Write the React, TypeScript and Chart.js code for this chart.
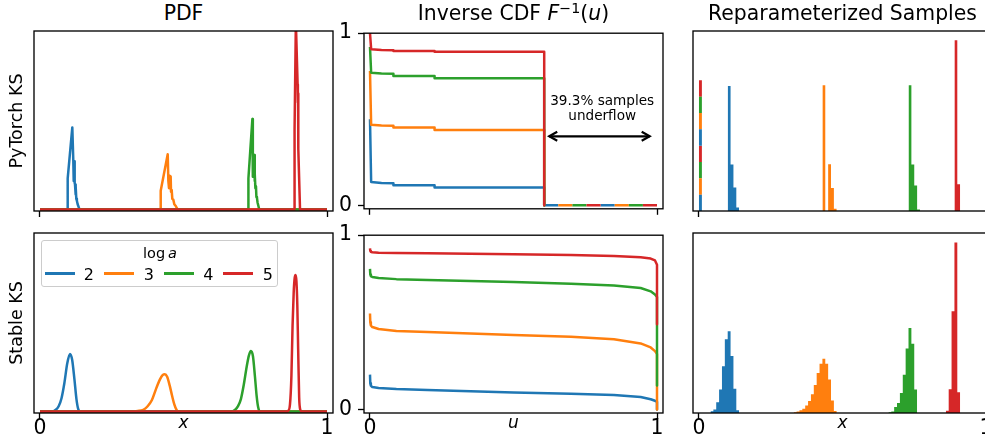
import React, { useEffect, useRef } from 'react';
import { Chart, registerables } from 'chart.js';

Chart.register(...registerables);

const FONT = "'DejaVu Sans', sans-serif";

// ---------------- data ----------------
const SERIES_LABELS = ['2', '3', '4', '5'];
const SERIES_COLORS = ['#1f77b4', '#ff7f0e', '#2ca02c', '#d62728'];
const LEGEND_TITLE = 'log';
const LEGEND_TITLE_ITALIC = 'a';
const ROW_TITLES = ['PyTorch KS', 'Stable KS'];
const X_AXIS_TITLES = ['x', 'u', 'x'];
const X_TICKS = [0, 1];
const Y_TICKS = [0, 1];

// PDF, PyTorch KS (jagged)
const pdfTorchX = [
  [0, 0.0964, 0.0965, 0.1126, 0.1161, 0.1175, 0.119, 0.1208, 0.122, 0.1235, 0.125, 0.1265, 0.1285, 0.1312, 0.138, 1],
  [0, 0.4205, 0.4206, 0.445, 0.4472, 0.4495, 0.4515, 0.4553, 0.4565, 0.4588, 0.461, 0.4646, 0.468, 0.473, 0.4797, 1],
  [0, 0.726, 0.7262, 0.74, 0.7416, 0.746, 0.7475, 0.749, 0.7505, 0.7525, 0.754, 0.756, 0.758, 0.764, 1],
  [0, 0.8855, 0.887, 0.8915, 0.8976, 0.8985, 0.8992, 0.9, 0.906, 1],
];
const pdfTorchY = [
  [0, 0, 0.175, 0.46, 0.27, 0.16, 0.27, 0.15, 0.14, 0.085, 0.13, 0.06, 0.05, 0.03, 0, 0],
  [0, 0, 0.106, 0.31, 0.16, 0.12, 0.19, 0.185, 0.1, 0.11, 0.06, 0.055, 0.03, 0.02, 0, 0],
  [0, 0, 0.175, 0.507, 0.184, 0.306, 0.16, 0.2, 0.12, 0.13, 0.07, 0.066, 0.04, 0, 0],
  [0, 0, 0.45, 1.05, 0.7, 0.6, 0.65, 0.34, 0, 0],
];

// PDF, Stable KS (smooth)
const pdfStableX = [
  [0, 0.04, 0.055, 0.065, 0.075, 0.085, 0.095, 0.1045, 0.112, 0.12, 0.127, 0.133, 0.14, 1],
  [0, 0.32, 0.34, 0.36, 0.375, 0.39, 0.405, 0.418, 0.428, 0.435, 0.443, 0.452, 0.46, 0.468, 0.475, 0.482, 1],
  [0, 0.665, 0.68, 0.69, 0.7, 0.71, 0.72, 0.728, 0.735, 0.742, 0.749, 0.755, 0.76, 0.766, 1],
  [0, 0.855, 0.865, 0.871, 0.876, 0.88, 0.884, 0.8875, 0.8905, 0.8935, 0.8965, 0.8995, 0.903, 0.907, 0.912, 1],
];
const pdfStableY = [
  [0, 0, 0.01, 0.03, 0.075, 0.16, 0.27, 0.3225, 0.29, 0.18, 0.07, 0.015, 0, 0],
  [0, 0, 0.003, 0.01, 0.03, 0.065, 0.13, 0.18, 0.205, 0.209, 0.195, 0.145, 0.09, 0.04, 0.012, 0, 0],
  [0, 0, 0.01, 0.03, 0.07, 0.15, 0.25, 0.315, 0.339, 0.31, 0.195, 0.085, 0.025, 0, 0],
  [0, 0, 0.005, 0.04, 0.2, 0.48, 0.67, 0.75, 0.765, 0.73, 0.6, 0.35, 0.08, 0.01, 0, 0],
];

// Inverse CDF, PyTorch KS
const icdfTorchU = [0, 0.004, 0.04, 0.0816, 0.0816, 0.225, 0.225, 0.607, 0.607, 1];
const icdfTorchV = [
  [0.5, 0.136, 0.13, 0.128, 0.117, 0.117, 0.104, 0.104, 0, 0],
  [0.78, 0.468, 0.464, 0.462, 0.452, 0.452, 0.4375, 0.4375, 0, 0],
  [0.92, 0.77, 0.766, 0.764, 0.752, 0.752, 0.739, 0.739, 0, 0],
  [1.0, 0.907, 0.903, 0.901, 0.897, 0.897, 0.892, 0.892, 0, 0],
];
const UNDERFLOW_U = 0.607;
const underflowLabel = ['39.3% samples', 'underflow'];
const underflowLabelU = 0.809;
const underflowLabelV = [0.585, 0.495];
const underflowArrowU = [0.621, 0.978];
const underflowArrowV = 0.401;

// Inverse CDF, Stable KS
const icdfStableU = [0, 0.001, 0.003, 0.008, 0.03, 0.092, 0.2, 0.35, 0.5, 0.7, 0.85, 0.943, 0.978, 0.993, 1, 1];
const icdfStableV = [
  [0.2, 0.15, 0.136, 0.129, 0.124, 0.118, 0.112, 0.105, 0.098, 0.091, 0.083, 0.072, 0.059, 0.05, 0.044, 0],
  [0.551, 0.5, 0.482, 0.473, 0.462, 0.451, 0.444, 0.436, 0.428, 0.417, 0.403, 0.379, 0.356, 0.335, 0.318, 0],
  [0.807, 0.775, 0.765, 0.76, 0.754, 0.748, 0.743, 0.737, 0.731, 0.722, 0.712, 0.697, 0.678, 0.66, 0.645, 0.138],
  [0.925, 0.91, 0.905, 0.902, 0.9, 0.898, 0.896, 0.893, 0.89, 0.886, 0.881, 0.873, 0.866, 0.855, 0.83, 0.489],
];

// Histograms (bin width 0.01)
const HIST_BIN = 0.01;
const torchZeroBin = [0.726, 0.726, 0.726, 0.726];
const torchHistStart = [0.1, 0.43, 0.73, 0.89];
const torchHistCounts = [
  [0.695, 0.258, 0.13, 0.019],
  [0.698, 0, 0.26, 0.128, 0.013],
  [0.698, 0.258, 0.141, 0.008],
  [0.948, 0.148],
];
const stableHistStart = [0.04, 0.33, 0.66, 0.86];
const stableHistCounts = [
  [0.01, 0.02, 0.06, 0.13, 0.26, 0.41, 0.454, 0.317, 0.135, 0.015],
  [0.004, 0.009, 0.015, 0.024, 0.041, 0.067, 0.104, 0.156, 0.222, 0.274, 0.302, 0.274, 0.186, 0.07, 0.011],
  [0.004, 0.008, 0.033, 0.056, 0.111, 0.213, 0.358, 0.472, 0.385, 0.13],
  [0.013, 0.132, 0.565, 0.947, 0.115],
];

// axis ranges
const X_RANGE = [-0.0209, 1.0209];
const PDF_Y_RANGE = [-0.008, 1.0];
const ICDF_Y_RANGE = [-0.02, 1.0];
const HIST_Y_RANGE = [0, 1.0];

// ---------------- helpers ----------------
const DASH_PHASE = [0, 3, 2, 1];

function lineSets(xs: number[][], ys: number[][], extra: any = {}) {
  return xs.map((xArr, i) => ({
    label: SERIES_LABELS[i],
    data: xArr.map((x, j) => ({ x, y: ys[i][j] })),
    borderColor: SERIES_COLORS[i],
    backgroundColor: SERIES_COLORS[i],
    borderWidth: 2.5,
    borderJoinStyle: 'round',
    borderCapStyle: 'butt',
    pointRadius: 0,
    pointHoverRadius: 0,
    fill: false,
    order: SERIES_LABELS.length - i,
    ...extra,
  }));
}

function isUnderflowTail(c: any) {
  return c.p0.parsed.x >= UNDERFLOW_U && c.p0.parsed.y === 0 && c.p1.parsed.y === 0;
}

function icdfTorchSets() {
  return lineSets(icdfTorchV.map(() => icdfTorchU), icdfTorchV).map((ds: any, i: number) => ({
    ...ds,
    segment: {
      borderDash: (c: any) => {
        if (!isUnderflowTail(c)) return undefined;
        const d = (c.p1.x - c.p0.x) / 8;
        return [d, 3 * d];
      },
      borderDashOffset: (c: any) => {
        if (!isUnderflowTail(c)) return undefined;
        const d = (c.p1.x - c.p0.x) / 8;
        return DASH_PHASE[i] * d;
      },
    },
  }));
}

// histogram outline as one closed polygon (bin corners), filled to the axis
function histSets(starts: number[], counts: number[][]) {
  return starts.map((s, i) => {
    const pts: any[] = [{ x: s, y: 0 }];
    counts[i].forEach((c, j) => {
      pts.push({ x: s + j * HIST_BIN, y: c });
      pts.push({ x: s + (j + 1) * HIST_BIN, y: c });
    });
    pts.push({ x: s + counts[i].length * HIST_BIN, y: 0 });
    return {
      label: SERIES_LABELS[i],
      data: pts,
      fill: 'origin',
      tension: 0,
      backgroundColor: SERIES_COLORS[i],
      borderColor: SERIES_COLORS[i],
      borderWidth: 0,
      pointRadius: 0,
      pointHoverRadius: 0,
      order: SERIES_LABELS.length - i,
    };
  });
}

function zeroBinSets(heights: number[]) {
  return heights.map((h, i) => ({
    label: SERIES_LABELS[i] + ' underflow',
    data: [
      { x: HIST_BIN / 2, y: 0 },
      { x: HIST_BIN / 2, y: h },
    ],
    borderColor: SERIES_COLORS[i],
    borderWidth: 2.9,
    borderCapStyle: 'butt',
    pointRadius: 0,
    pointHoverRadius: 0,
    fill: false,
    segment: {
      borderDash: (c: any) => {
        const d = Math.abs(c.p0.y - c.p1.y) / 8;
        return [d, 3 * d];
      },
      borderDashOffset: (c: any) => {
        const d = Math.abs(c.p0.y - c.p1.y) / 8;
        return DASH_PHASE[i] * d;
      },
    },
  }));
}

const framePlugin = {
  id: 'frame',
  afterDatasetsDraw(chart: any) {
    const { ctx, chartArea: a } = chart;
    ctx.save();
    ctx.strokeStyle = '#000';
    ctx.lineWidth = 1.33;
    ctx.strokeRect(a.left, a.top, a.right - a.left, a.bottom - a.top);
    ctx.restore();
  },
};

const underflowPlugin = {
  id: 'underflow',
  afterDatasetsDraw(chart: any) {
    const { ctx } = chart;
    const xs = chart.scales.x;
    const ys = chart.scales.y;
    ctx.save();
    ctx.fillStyle = '#000';
    ctx.font = `13.6px ${FONT}`;
    ctx.textAlign = 'center';
    ctx.textBaseline = 'alphabetic';
    underflowLabel.forEach((t, i) => {
      ctx.fillText(t, xs.getPixelForValue(underflowLabelU), ys.getPixelForValue(underflowLabelV[i]));
    });
    const x0 = xs.getPixelForValue(underflowArrowU[0]);
    const x1 = xs.getPixelForValue(underflowArrowU[1]);
    const y = ys.getPixelForValue(underflowArrowV);
    ctx.strokeStyle = '#000';
    ctx.lineWidth = 2.2;
    ctx.lineJoin = 'miter';
    ctx.beginPath();
    ctx.moveTo(x0 + 1, y);
    ctx.lineTo(x1 - 1, y);
    ctx.stroke();
    const hl = 9;
    const hw = 4.5;
    ctx.beginPath();
    ctx.moveTo(x0 + hl, y - hw);
    ctx.lineTo(x0 + 1, y);
    ctx.lineTo(x0 + hl, y + hw);
    ctx.stroke();
    ctx.beginPath();
    ctx.moveTo(x1 - hl, y - hw);
    ctx.lineTo(x1 - 1, y);
    ctx.lineTo(x1 - hl, y + hw);
    ctx.stroke();
    ctx.restore();
  },
};

type Box = { l: number; t: number; r: number; b: number };
type Spec = {
  box: Box;
  yW: number;
  xH: number;
  padT: number;
  padR: number;
  yMode: 'title' | 'ticks' | 'none';
  rowTitle?: string;
  xLabels: boolean;
  xTitle?: string;
  yRange: number[];
  datasets: any[];
  plugins?: any[];
};

function geom(s: Spec) {
  return {
    left: s.box.l - s.yW,
    top: s.box.t - s.padT,
    width: s.yW + (s.box.r - s.box.l) + s.padR,
    height: s.padT + (s.box.b - s.box.t) + s.xH,
  };
}

function buildConfig(s: Spec): any {
  const tickFont = { family: FONT, size: 20.4, lineHeight: 1 };
  const tickGrid = {
    display: true,
    drawOnChartArea: false,
    drawTicks: true,
    tickLength: 6,
    tickWidth: 1.33,
    tickColor: '#000',
  };
  const x: any = {
    type: 'linear',
    position: 'bottom',
    min: X_RANGE[0],
    max: X_RANGE[1],
    afterBuildTicks: (sc: any) => {
      sc.ticks = X_TICKS.map((v) => ({ value: v }));
    },
    afterFit: (sc: any) => {
      sc.height = s.xH;
    },
    grid: tickGrid,
    border: { display: false },
    ticks: {
      display: s.xLabels,
      autoSkip: false,
      maxRotation: 0,
      minRotation: 0,
      padding: 0,
      color: '#000',
      font: tickFont,
      callback: (v: any) => String(v),
    },
    title: s.xTitle
      ? {
          display: true,
          text: s.xTitle,
          color: '#000',
          font: { family: FONT, size: 17, style: 'italic' },
          padding: { top: 0, bottom: 8.5 },
        }
      : { display: false },
  };
  let y: any;
  if (s.yMode === 'ticks') {
    y = {
      type: 'linear',
      position: 'left',
      min: s.yRange[0],
      max: s.yRange[1],
      afterBuildTicks: (sc: any) => {
        sc.ticks = Y_TICKS.map((v) => ({ value: v }));
      },
      afterFit: (sc: any) => {
        sc.width = s.yW;
      },
      grid: tickGrid,
      border: { display: false },
      ticks: { display: true, padding: 6, color: '#000', font: tickFont, callback: (v: any) => String(v) },
    };
  } else if (s.yMode === 'title') {
    y = {
      type: 'linear',
      position: 'left',
      min: s.yRange[0],
      max: s.yRange[1],
      afterFit: (sc: any) => {
        sc.width = s.yW;
      },
      grid: { display: false },
      border: { display: false },
      ticks: { display: false },
      title: {
        display: true,
        text: s.rowTitle,
        color: '#000',
        font: { family: FONT, size: 17.5 },
        padding: { top: 7, bottom: 0 },
      },
    };
  } else {
    y = { type: 'linear', display: false, min: s.yRange[0], max: s.yRange[1] };
  }
  return {
    type: 'line',
    data: { datasets: s.datasets },
    options: {
      animation: false,
      responsive: false,
      maintainAspectRatio: false,
      devicePixelRatio: 1,
      events: [],
      layout: { padding: { top: s.padT, right: s.padR, bottom: 0, left: s.yMode === 'none' ? s.yW : 0 } },
      plugins: { legend: { display: false }, tooltip: { enabled: false }, title: { display: false } },
      scales: { x, y },
    },
    plugins: [framePlugin, ...(s.plugins || [])],
  };
}

function Panel({ spec }: { spec: Spec }) {
  const ref = useRef<HTMLCanvasElement>(null);
  useEffect(() => {
    const chart = new Chart(ref.current as HTMLCanvasElement, buildConfig(spec));
    return () => chart.destroy();
  }, []);
  const g = geom(spec);
  return (
    <canvas
      ref={ref}
      width={g.width}
      height={g.height}
      style={{ position: 'absolute', left: g.left, top: g.top, width: g.width, height: g.height }}
    />
  );
}

const BOX_A = { l: 34, t: 31, r: 333, b: 211 };
const BOX_B = { l: 34, t: 233, r: 333, b: 413 };
const BOX_C = { l: 364, t: 31, r: 663, b: 211 };
const BOX_D = { l: 364, t: 233, r: 663, b: 413 };
const BOX_E = { l: 693, t: 31, r: 992, b: 211 };
const BOX_F = { l: 693, t: 233, r: 992, b: 413 };

const SPECS: Spec[] = [
  {
    box: BOX_A, yW: 34, xH: 14, padT: 4, padR: 8, yMode: 'title', rowTitle: ROW_TITLES[0],
    xLabels: false, yRange: PDF_Y_RANGE, datasets: lineSets(pdfTorchX, pdfTorchY),
  },
  {
    box: BOX_B, yW: 34, xH: 29, padT: 4, padR: 8, yMode: 'title', rowTitle: ROW_TITLES[1],
    xLabels: true, xTitle: X_AXIS_TITLES[0], yRange: PDF_Y_RANGE,
    datasets: lineSets(pdfStableX, pdfStableY, { cubicInterpolationMode: 'monotone' }),
  },
  {
    box: BOX_C, yW: 30, xH: 14, padT: 14, padR: 8, yMode: 'ticks',
    xLabels: false, yRange: ICDF_Y_RANGE, datasets: icdfTorchSets(), plugins: [underflowPlugin],
  },
  {
    box: BOX_D, yW: 30, xH: 29, padT: 14, padR: 8, yMode: 'ticks',
    xLabels: true, xTitle: X_AXIS_TITLES[1], yRange: ICDF_Y_RANGE,
    datasets: lineSets(icdfStableV.map(() => icdfStableU), icdfStableV),
  },
  {
    box: BOX_E, yW: 8, xH: 14, padT: 4, padR: 8, yMode: 'none',
    xLabels: false, yRange: HIST_Y_RANGE,
    datasets: [...histSets(torchHistStart, torchHistCounts), ...zeroBinSets(torchZeroBin)],
  },
  {
    box: BOX_F, yW: 8, xH: 29, padT: 4, padR: 8, yMode: 'none',
    xLabels: true, xTitle: X_AXIS_TITLES[2], yRange: HIST_Y_RANGE,
    datasets: histSets(stableHistStart, stableHistCounts),
  },
];

const titleStyle = (box: Box): React.CSSProperties => ({
  position: 'absolute',
  left: box.l,
  width: box.r - box.l,
  top: 3.4,
  textAlign: 'center',
  fontSize: 20.4,
  lineHeight: 1,
  fontFamily: FONT,
  whiteSpace: 'nowrap',
  color: '#000',
});

const LEGEND_HANDLE_X = [45, 104.3, 164.3, 223.3];
const LEGEND_LABEL_CX = [88.8, 148.8, 208.3, 267.8];
const LEGEND_FONT = 16;
const LEGEND_TITLE_FONT = 14.5;

export default function App() {
  return (
    <div
      style={{
        position: 'absolute',
        left: 0,
        top: 0,
        width: 985,
        height: 442,
        overflow: 'hidden',
        background: '#fff',
        fontFamily: FONT,
      }}
    >
      {SPECS.map((s, i) => (
        <Panel key={i} spec={s} />
      ))}
      <div style={titleStyle(BOX_A)}>PDF</div>
      <div style={titleStyle(BOX_C)}>
        Inverse CDF <span style={{ fontStyle: 'italic' }}>F</span>
        <span style={{ fontSize: '0.7em', position: 'relative', top: '-0.55em' }}>−1</span>(
        <span style={{ fontStyle: 'italic' }}>u</span>)
      </div>
      <div style={titleStyle(BOX_E)}>Reparameterized Samples</div>

      {/* legend */}
      <div
        style={{
          position: 'absolute',
          left: 40.5,
          top: 240,
          width: 237,
          height: 47,
          boxSizing: 'border-box',
          border: '1.3px solid #cccccc',
          borderRadius: 3,
          background: 'rgba(255,255,255,0.8)',
        }}
      />
      <div
        style={{
          position: 'absolute',
          left: 110,
          width: 100,
          top: 246,
          textAlign: 'center',
          fontSize: LEGEND_TITLE_FONT,
          lineHeight: 1,
          whiteSpace: 'nowrap',
          color: '#000',
        }}
      >
        {LEGEND_TITLE}
        {'\u2009'}
        <span style={{ fontStyle: 'italic' }}>{LEGEND_TITLE_ITALIC}</span>
      </div>
      {SERIES_LABELS.map((lab, i) => (
        <React.Fragment key={lab}>
          <div
            style={{
              position: 'absolute',
              left: LEGEND_HANDLE_X[i],
              top: 273.3 - 1.25,
              width: 29.5,
              height: 2.5,
              background: SERIES_COLORS[i],
            }}
          />
          <div
            style={{
              position: 'absolute',
              left: LEGEND_LABEL_CX[i] - 10,
              width: 20,
              top: 266.5,
              textAlign: 'center',
              fontSize: LEGEND_FONT,
              lineHeight: 1,
              color: '#000',
            }}
          >
            {lab}
          </div>
        </React.Fragment>
      ))}
    </div>
  );
}
